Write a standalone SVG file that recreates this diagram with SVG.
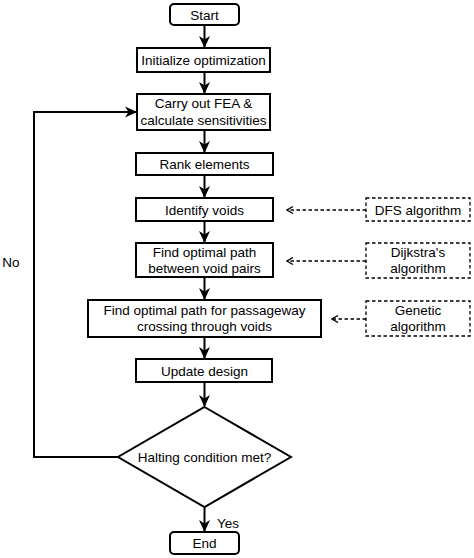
<svg xmlns="http://www.w3.org/2000/svg" width="474" height="558" viewBox="0 0 474 558">
<defs>
<style>
.b{fill:#fff;stroke:#000;stroke-width:2}
.d{fill:#fff;stroke:#000;stroke-width:1.3;stroke-dasharray:3.5 2.5}
.t{font-family:"Liberation Sans",Arial,sans-serif;font-size:13.5px;fill:#000;text-anchor:middle}
.c{fill:none;stroke:#000;stroke-width:2}
.dc{fill:none;stroke:#000;stroke-width:1.3;stroke-dasharray:3.5 2.5}
</style>
<marker id="ah" markerWidth="12" markerHeight="12" refX="11" refY="6" orient="auto" markerUnits="userSpaceOnUse">
<path d="M0,0.5 L12,6 L0,11.5 L3.5,6 Z" fill="#000"/>
</marker>
<marker id="oh" markerWidth="8" markerHeight="8" refX="7" refY="4" orient="auto" markerUnits="userSpaceOnUse">
<path d="M1,0.5 L7,4 L1,7.5" fill="none" stroke="#000" stroke-width="1.3"/>
</marker>
</defs>
<g id="connectors">
<line class="c" x1="204.5" y1="25" x2="204.5" y2="47" marker-end="url(#ah)"/>
<line class="c" x1="204.5" y1="72" x2="204.5" y2="93" marker-end="url(#ah)"/>
<line class="c" x1="204.5" y1="130" x2="204.5" y2="152" marker-end="url(#ah)"/>
<line class="c" x1="204.5" y1="175" x2="204.5" y2="197" marker-end="url(#ah)"/>
<line class="c" x1="204.5" y1="221" x2="204.5" y2="242" marker-end="url(#ah)"/>
<line class="c" x1="204.5" y1="277" x2="204.5" y2="299" marker-end="url(#ah)"/>
<line class="c" x1="204.5" y1="337" x2="204.5" y2="358" marker-end="url(#ah)"/>
<line class="c" x1="204.5" y1="382" x2="204.5" y2="406" marker-end="url(#ah)"/>
<line class="c" x1="204.5" y1="507" x2="204.5" y2="531" marker-end="url(#ah)"/>
<polyline class="c" points="118,457 34,457 34,112 136,112" marker-end="url(#ah)"/>
<line class="dc" x1="366" y1="210" x2="287" y2="210" marker-end="url(#oh)"/>
<line class="dc" x1="366" y1="261" x2="287" y2="261" marker-end="url(#oh)"/>
<line class="dc" x1="366" y1="319" x2="332" y2="319" marker-end="url(#oh)"/>
<text class="t" x="228" y="528">Yes</text>
<text class="t" x="11" y="267">No</text>
</g>
<g id="start"><rect class="b" x="170" y="4" width="69" height="21" rx="4"/><text class="t" x="204.5" y="19.5">Start</text></g>
<g id="init"><rect class="b" x="137" y="48" width="133" height="24"/><text class="t" x="203.5" y="65">Initialize optimization</text></g>
<g id="fea"><rect class="b" x="137" y="94" width="133" height="36"/><text class="t" x="203.5" y="108">Carry out FEA &amp;</text><text class="t" x="203.5" y="125">calculate sensitivities</text></g>
<g id="rank"><rect class="b" x="136" y="153" width="137" height="22"/><text class="t" x="204.5" y="169">Rank elements</text></g>
<g id="identify"><rect class="b" x="136" y="198" width="137" height="23"/><text class="t" x="204.5" y="214.5">Identify voids</text></g>
<g id="findpath"><rect class="b" x="136" y="243" width="137" height="34"/><text class="t" x="204.5" y="257">Find optimal path</text><text class="t" x="204.5" y="273">between void pairs</text></g>
<g id="passage"><rect class="b" x="88" y="300" width="233" height="37"/><text class="t" x="204.5" y="315">Find optimal path for passageway</text><text class="t" x="204.5" y="331">crossing through voids</text></g>
<g id="update"><rect class="b" x="136" y="359" width="136" height="23"/><text class="t" x="204.5" y="375.5">Update design</text></g>
<g id="halt"><polygon class="b" points="204.5,407 291,457 204.5,507 118,457"/><text class="t" x="204.5" y="462">Halting condition met?</text></g>
<g id="end"><rect class="b" x="170" y="532" width="69" height="22" rx="4"/><text class="t" x="204.5" y="548">End</text></g>
<g id="dfs"><rect class="d" x="366" y="198" width="104" height="23"/><text class="t" x="418" y="214.5">DFS algorithm</text></g>
<g id="dijkstra"><rect class="d" x="366" y="243" width="104" height="35"/><text class="t" x="418" y="257">Dijkstra's</text><text class="t" x="418" y="273">algorithm</text></g>
<g id="genetic"><rect class="d" x="366" y="301" width="104" height="35"/><text class="t" x="418" y="315">Genetic</text><text class="t" x="418" y="331">algorithm</text></g>
</svg>
